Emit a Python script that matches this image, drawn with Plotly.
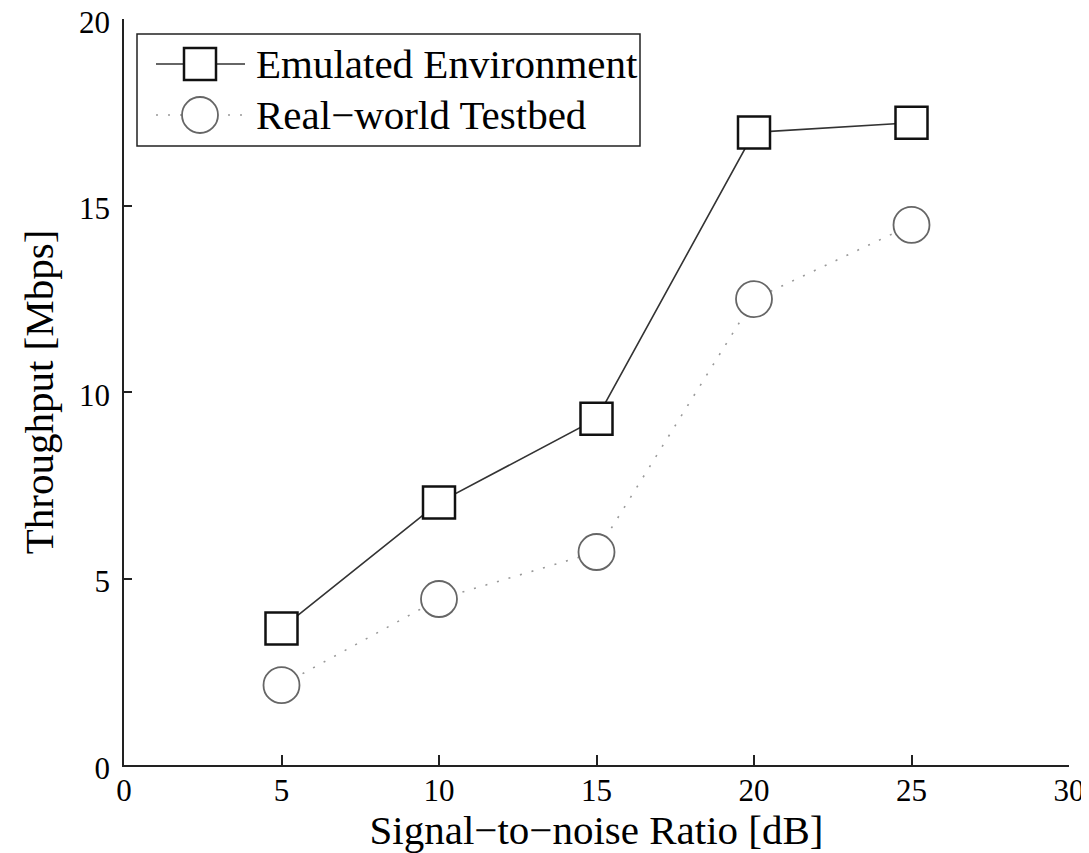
import plotly.graph_objects as go

snr = [5, 10, 15, 20, 25]
emulated = [3.66, 7.04, 9.28, 16.96, 17.22]
realworld = [2.14, 4.45, 5.71, 12.49, 14.48]
series_names = ["Emulated Environment", "Real\u2212world Testbed"]
x_ticks = [0, 5, 10, 15, 20, 25, 30]
y_ticks = [0, 5, 10, 15, 20]

FONT = "Liberation Serif, Times New Roman, serif"

fig = go.Figure()
fig.add_trace(go.Scatter(
    x=snr, y=emulated, mode="lines+markers", name=series_names[0],
    line=dict(color="#333333", width=1.6),
    marker=dict(symbol="square", size=32, color="white",
                line=dict(color="#111111", width=2.5)),
    showlegend=False,
))
fig.add_trace(go.Scatter(
    x=snr, y=realworld, mode="lines+markers", name=series_names[1],
    line=dict(color="#999999", width=1.6, dash="2px,10px"),
    marker=dict(symbol="circle", size=36, color="white",
                line=dict(color="#666666", width=1.8)),
    showlegend=False,
))

# page body has an 8px margin, so the figure is offset by 8px
OFF = 8
W, H = 1089 - OFF, 853 - OFF
L, R, T, B = 124 - OFF, 20, 19 - OFF, 88
PW, PH = W - L - R, H - T - B

# helpers: page pixel -> paper coordinates (for the hand-drawn legend box)
def px(xp):
    return (xp - OFF - L) / PW

def py(yp):
    return (T + PH - (yp - OFF)) / PH

shapes = []
shapes.append(dict(type="rect", xref="paper", yref="paper",
                   x0=px(137), x1=px(640), y0=py(146), y1=py(34),
                   line=dict(color="#222222", width=1.5), fillcolor="white", layer="above"))
shapes.append(dict(type="line", xref="paper", yref="paper",
                   x0=px(156), x1=px(245), y0=py(64), y1=py(64),
                   line=dict(color="#333333", width=1.6), layer="above"))
shapes.append(dict(type="rect", xref="paper", yref="paper",
                   x0=px(184), x1=px(216), y0=py(80), y1=py(48),
                   line=dict(color="#111111", width=2.5), fillcolor="white", layer="above"))
shapes.append(dict(type="line", xref="paper", yref="paper",
                   x0=px(156), x1=px(245), y0=py(115), y1=py(115),
                   line=dict(color="#999999", width=1.6, dash="2px,10px"), layer="above"))
shapes.append(dict(type="circle", xref="paper", yref="paper",
                   x0=px(182), x1=px(218), y0=py(133), y1=py(97),
                   line=dict(color="#666666", width=1.8), fillcolor="white", layer="above"))

annotations = [
    dict(x=px(254), y=py(64), xref="paper", yref="paper", text=series_names[0],
         showarrow=False, xanchor="left", yanchor="middle",
         font=dict(family=FONT, size=41, color="black")),
    dict(x=px(254), y=py(115), xref="paper", yref="paper", text=series_names[1],
         showarrow=False, xanchor="left", yanchor="middle",
         font=dict(family=FONT, size=41, color="black")),
]

fig.update_layout(
    width=W, height=H,
    margin=dict(l=L, r=R, t=T, b=B, pad=0),
    paper_bgcolor="white", plot_bgcolor="white",
    font=dict(family=FONT, color="black"),
    shapes=shapes, annotations=annotations,
    xaxis=dict(
        range=[0, 30], tickvals=x_ticks, ticktext=[str(v) for v in x_ticks],
        showgrid=False, zeroline=False, showline=True, linecolor="#222222", linewidth=1.5,
        ticks="inside", ticklen=10, tickwidth=1.5, tickcolor="#222222",
        automargin=False, ticklabeloverflow="allow", ticklabelstandoff=-3,
        tickfont=dict(family=FONT, size=31, color="black"),
        title=dict(text="Signal\u2212to\u2212noise Ratio [dB]", standoff=5,
                   font=dict(family=FONT, size=41, color="black")),
    ),
    yaxis=dict(
        range=[0, 20], tickvals=y_ticks, ticktext=[str(v) for v in y_ticks],
        showgrid=False, zeroline=False, showline=True, linecolor="#222222", linewidth=1.5,
        ticks="inside", ticklen=8, tickwidth=1.5, tickcolor="#222222",
        ticklabelstandoff=6, ticklabelshift=3, automargin=False, ticklabeloverflow="allow",
        tickfont=dict(family=FONT, size=31, color="black"),
        title=dict(text="Throughput [Mbps]", standoff=13,
                   font=dict(family=FONT, size=41, color="black")),
    ),
)

fig.write_html("out.html")
